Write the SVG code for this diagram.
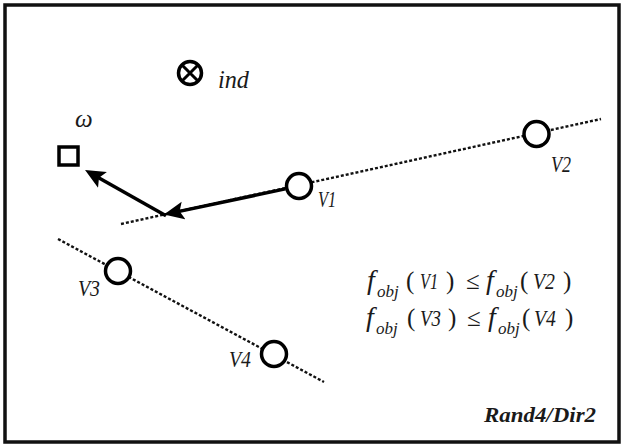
<svg xmlns="http://www.w3.org/2000/svg" width="623" height="445" viewBox="0 0 623 445">
<style>
.lbl{font-family:"Liberation Serif","Times New Roman",serif;font-style:italic;fill:#1a1a1a}
.up{font-family:"Liberation Serif","Times New Roman",serif;fill:#1a1a1a;font-size:25px}
.f{font-family:"Liberation Serif","Times New Roman",serif;font-style:italic;fill:#1a1a1a;font-size:28px}
.sub{font-family:"Liberation Serif","Times New Roman",serif;font-style:italic;fill:#1a1a1a;font-size:17px}
.vv{font-family:"Liberation Serif","Times New Roman",serif;font-style:italic;fill:#1a1a1a;font-size:24px}
.node{fill:#fff;stroke:#000;stroke-width:3.5}
.dot{stroke:#111;stroke-width:2.4;stroke-dasharray:3 2;fill:none}
.arr{stroke:#000;stroke-width:3.5;fill:none;marker-end:url(#ah)}
</style>
<defs>
<marker id="ah" viewBox="0 0 20 20" refX="8" refY="10" markerWidth="20" markerHeight="20" markerUnits="userSpaceOnUse" orient="auto">
<path d="M0,1 L20,10 L0,19 L4,10 z" fill="#000"/>
</marker>
</defs>
<rect x="0" y="0" width="623" height="445" fill="#fff"/>
<rect x="5" y="5" width="614" height="437" fill="none" stroke="#111" stroke-width="3.5"/>
<g id="connectors">
<line class="dot" x1="121" y1="224" x2="601" y2="119"/>
<line class="dot" x1="58" y1="239" x2="324" y2="382"/>
<line class="arr" x1="285.3" y1="188.9" x2="175.7" y2="212.1"/>
<line class="arr" x1="166" y1="215.7" x2="95.5" y2="175.9"/>
</g>
<g id="ind">
<circle cx="190" cy="73" r="11.5" fill="#fff" stroke="#000" stroke-width="3.5"/>
<path d="M182.5,65.5 L197.5,80.5 M197.5,65.5 L182.5,80.5" stroke="#000" stroke-width="3"/>
<text class="lbl" x="218" y="88" font-size="25" textLength="31" lengthAdjust="spacingAndGlyphs">ind</text>
</g>
<g id="omega">
<rect x="59" y="147" width="19" height="18" fill="#fff" stroke="#000" stroke-width="3.5"/>
<text class="lbl" x="75" y="127" font-size="25">ω</text>
</g>
<g id="V1">
<circle class="node" cx="299" cy="186" r="12.5"/>
<text class="vv" x="318" y="207" textLength="18" lengthAdjust="spacingAndGlyphs">V1</text>
</g>
<g id="V2">
<circle class="node" cx="536.5" cy="134" r="12.5"/>
<text class="vv" x="551" y="172" textLength="20" lengthAdjust="spacingAndGlyphs">V2</text>
</g>
<g id="V3">
<circle class="node" cx="118" cy="271" r="12.5"/>
<text class="vv" x="78" y="296" textLength="22" lengthAdjust="spacingAndGlyphs">V3</text>
</g>
<g id="V4">
<circle class="node" cx="274" cy="354" r="12.5"/>
<text class="vv" x="229" y="367" textLength="22" lengthAdjust="spacingAndGlyphs">V4</text>
</g>
<g id="formula">
<text class="f" x="367" y="289">f</text>
<text class="sub" x="377" y="297">obj</text>
<text class="up" x="406" y="289">(</text>
<text class="vv" x="420" y="289" textLength="18" lengthAdjust="spacingAndGlyphs">V1</text>
<text class="up" x="446" y="289">)</text>
<text class="up" x="466" y="289">≤</text>
<text class="f" x="486" y="289">f</text>
<text class="sub" x="496" y="297">obj</text>
<text class="up" x="520" y="289">(</text>
<text class="vv" x="533" y="289" textLength="22" lengthAdjust="spacingAndGlyphs">V2</text>
<text class="up" x="563" y="289">)</text>
<text class="f" x="366" y="326">f</text>
<text class="sub" x="376" y="334">obj</text>
<text class="up" x="407" y="326">(</text>
<text class="vv" x="420" y="326" textLength="21" lengthAdjust="spacingAndGlyphs">V3</text>
<text class="up" x="448" y="326">)</text>
<text class="up" x="467" y="326">≤</text>
<text class="f" x="488" y="326">f</text>
<text class="sub" x="498" y="334">obj</text>
<text class="up" x="522" y="326">(</text>
<text class="vv" x="534" y="326" textLength="22" lengthAdjust="spacingAndGlyphs">V4</text>
<text class="up" x="565" y="326">)</text>
</g>
<text class="lbl" x="484" y="422" font-size="21" font-weight="bold" textLength="112" lengthAdjust="spacingAndGlyphs">Rand4/Dir2</text>
</svg>
